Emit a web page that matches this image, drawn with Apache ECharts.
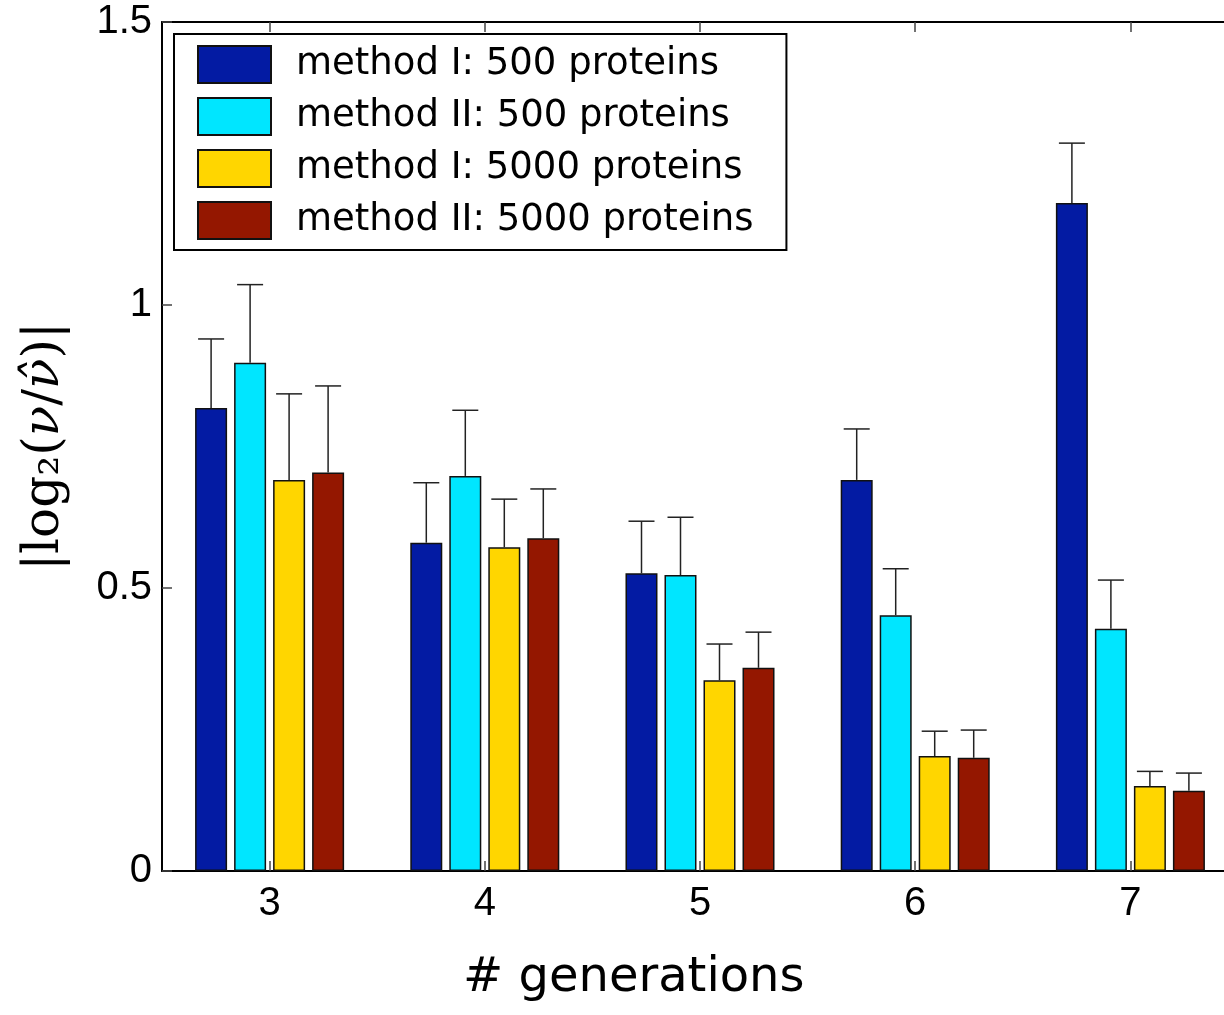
<!DOCTYPE html>
<html>
<head>
<meta charset="utf-8">
<script src="https://cdn.jsdelivr.net/npm/echarts@6/dist/echarts.min.js"></script>
<style>html,body{margin:0;padding:0;background:#fff}#c{width:1224px;height:1015px}</style>
</head>
<body>
<div id="c"></div>
<script>
const categories = ['3', '4', '5', '6', '7'];
const seriesNames = ['method I: 500 proteins', 'method II: 500 proteins', 'method I: 5000 proteins', 'method II: 5000 proteins'];
const m1_500 = [0.818, 0.580, 0.526, 0.691, 1.180];
const m1_500_err = [0.122, 0.106, 0.092, 0.090, 0.106];
const m2_500 = [0.898, 0.698, 0.523, 0.452, 0.428];
const m2_500_err = [0.138, 0.116, 0.102, 0.082, 0.086];
const m1_5000 = [0.691, 0.572, 0.337, 0.203, 0.150];
const m1_5000_err = [0.152, 0.085, 0.064, 0.044, 0.026];
const m2_5000 = [0.704, 0.588, 0.359, 0.200, 0.142];
const m2_5000_err = [0.153, 0.087, 0.063, 0.049, 0.031];
const yTicks = [0, 0.5, 1, 1.5];

const colors = ['#031ba3', '#00e6ff', '#ffd600', '#941700'];
const values = [m1_500, m2_500, m1_5000, m2_5000];
const errors = [m1_500_err, m2_500_err, m1_5000_err, m2_5000_err];

const BAR_W = 32;
const SPACING = 39;

const errData = [];
values.forEach((vals, s) => {
  vals.forEach((v, i) => errData.push([i, s, v, errors[s][i]]));
});

const chart = echarts.init(document.getElementById('c'), null, {renderer: 'canvas'});

const barSeries = values.map((vals, s) => ({
  type: 'bar',
  name: seriesNames[s],
  data: vals,
  barWidth: BAR_W,
  barGap: ((SPACING - BAR_W) / BAR_W * 100).toFixed(1) + '%',
  itemStyle: {color: colors[s], borderColor: '#111', borderWidth: 1.5},
  emphasis: {disabled: true},
  z: 2
}));

const option = {
  animation: false,
  backgroundColor: '#fff',
  grid: {left: 162, top: 22, right: -14, bottom: 144, containLabel: false, outerBoundsMode: 'none'},
  legend: {
    data: seriesNames,
    orient: 'vertical',
    left: 174,
    top: 34,
    itemWidth: 73,
    itemHeight: 37,
    itemGap: 13,
    padding: [11, 33, 10, 23],
    backgroundColor: '#fff',
    borderColor: '#000',
    borderWidth: 2,
    icon: 'rect',
    selectedMode: false,
    textStyle: {fontFamily: 'DejaVu Sans', fontSize: 37, color: '#000', padding: [0, 0, 0, 20]},
    z: 10
  },
  xAxis: [{
    type: 'category',
    data: categories,
    position: 'bottom',
    axisLine: {show: true, lineStyle: {color: '#000', width: 2}},
    axisTick: {show: true, inside: true, alignWithLabel: true, length: 10, lineStyle: {color: '#444', width: 1.5}},
    axisLabel: {fontFamily: 'Liberation Sans', fontSize: 40, color: '#000', margin: 13},
    splitLine: {show: false}
  }, {
    type: 'category',
    data: categories,
    position: 'top',
    axisLine: {show: true, lineStyle: {color: '#000', width: 2}},
    axisTick: {show: true, inside: true, alignWithLabel: true, length: 10, lineStyle: {color: '#444', width: 1.5}},
    axisLabel: {show: false},
    splitLine: {show: false}
  }],
  yAxis: {
    type: 'value',
    min: yTicks[0],
    max: yTicks[yTicks.length - 1],
    interval: 0.5,
    axisLine: {show: true, lineStyle: {color: '#000', width: 2}},
    axisTick: {show: true, inside: true, length: 10, lineStyle: {color: '#444', width: 1.5}},
    axisLabel: {fontFamily: 'Liberation Sans', fontSize: 40, color: '#000', margin: 10},
    splitLine: {show: false},
    name: '{a|\u007Clog\u2082(}{i|\u03BD}{a|/}{i|\u03BD\u0302}{a|)\u007C}',
    nameLocation: 'middle',
    nameRotate: 90,
    nameGap: 92,
    nameTextStyle: {
      rich: {
        a: {fontFamily: 'DejaVu Serif', fontSize: 50, color: '#000'},
        i: {fontFamily: 'DejaVu Serif', fontStyle: 'italic', fontSize: 50, color: '#000'}
      }
    }
  },
  graphic: [{
    type: 'text',
    left: 463,
    top: 955,
    style: {text: '# generations', fontFamily: 'DejaVu Sans', fontSize: 48, fill: '#000'}
  }],
  series: barSeries.concat([{
    type: 'custom',
    name: 'err',
    data: errData,
    encode: {x: 0, y: 2},
    z: 3,
    renderItem: function (params, api) {
      const ci = api.value(0);
      const s = api.value(1);
      const v = api.value(2);
      const e = api.value(3);
      const base = api.coord([ci, v]);
      const top = api.coord([ci, v + e]);
      const x = base[0] + (s - 1.5) * SPACING;
      const st = {stroke: '#222', lineWidth: 1.5};
      return {
        type: 'group',
        children: [
          {type: 'line', shape: {x1: x, y1: base[1], x2: x, y2: top[1]}, style: st},
          {type: 'line', shape: {x1: x - 13, y1: top[1], x2: x + 13, y2: top[1]}, style: st}
        ]
      };
    }
  }])
};
chart.setOption(option);
</script>
</body>
</html>
